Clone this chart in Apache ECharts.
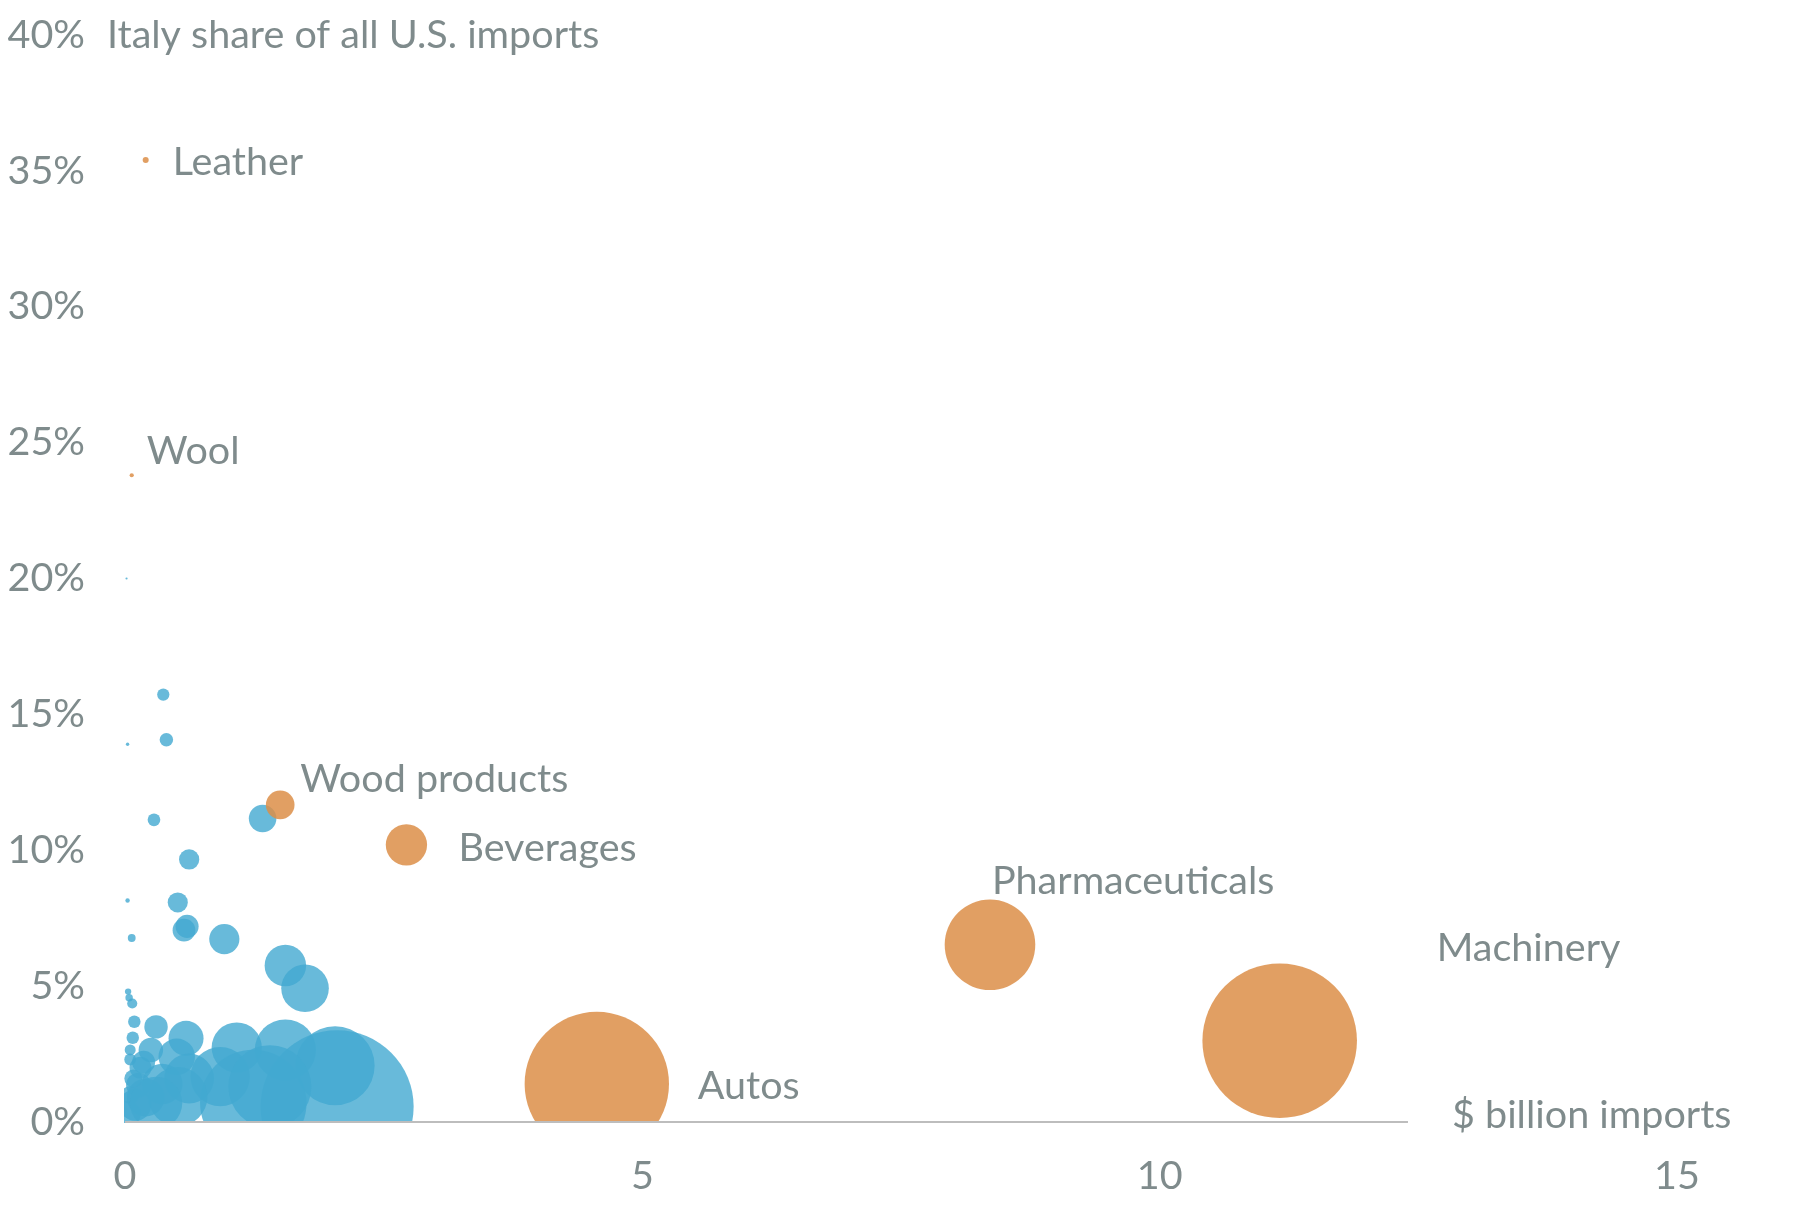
<!DOCTYPE html>
<html>
<head>
<meta charset="utf-8">
<style>
  html, body { margin: 0; padding: 0; background: #ffffff; }
  #chart { width: 1818px; height: 1208px; }
</style>
<script src="https://cdn.jsdelivr.net/npm/echarts@6/dist/echarts.min.js"></script>
</head>
<body>
<div id="chart"></div>
<script>
// ---- Data (x: $ billion imports from Italy, y: Italy share of all U.S. imports, %) ----
const blueImports = [0.015, 0.37, 0.40, 0.025, 1.33, 0.28, 0.62, 0.025, 0.51, 0.60, 0.57, 0.065, 0.96,
  1.55, 1.74, 0.03, 0.04, 0.07, 0.09, 0.30, 0.075, 0.59, 1.08, 1.55, 2.03, 2.05,
  0.05, 0.25, 0.05, 0.50, 0.13, 0.36, 0.10, 0.62, 0.92, 1.24, 1.40, 0.20, 0.05, 0.15, 0.03,
  0.51, 0.30, 0.08, 0.18];
const blueShare = [20.0, 15.73, 14.07, 13.9, 11.17, 11.12, 9.66, 8.15, 8.08, 7.2, 7.06, 6.77, 6.73,
  5.76, 4.92, 4.8, 4.57, 4.36, 3.69, 3.5, 3.1, 3.08, 2.74, 2.65, 2.07, 0.56,
  2.65, 2.65, 2.3, 2.4, 1.36, 1.4, 0.63, 1.6, 1.67, 0.7, 1.3, 0.9, 1.0, 2.0, 0.3,
  0.93, 0.7, 1.6, 2.2];

const orangeNames = ['Leather', 'Wool', 'Wood products', 'Beverages', 'Pharmaceuticals', 'Autos', 'Machinery'];
const orangeImports = [0.20, 0.065, 1.50, 2.72, 8.36, 4.56, 11.16];
const orangeShare = [35.4, 23.8, 11.67, 10.2, 6.52, 1.40, 2.99];

const yTitle = 'Italy share of all U.S. imports';
const xTitle = '$ billion imports';

// ---- Styles ----
const TEXT = '#7f8b8c';
const FONT = 'Lato, "Open Sans", sans-serif';
const FS = 39.5;
const labelOffsets = {
  'Leather': [27, 2],
  'Wool': [15, -24],
  'Wood products': [20, -26],
  'Beverages': [52, 3],
  'Pharmaceuticals': [2, -64],
  'Autos': [101, 2],
  'Machinery': [157, -92]
};
// bubble area proportional to total U.S. imports of the category (imports / share)
const sizeOf = v => 8 * Math.sqrt(v[0] / (v[1] / 100));

const blueData = blueImports.map((x, i) => [x, blueShare[i]]);
const orangeData = orangeNames.map((n, i) => ({
  name: n,
  value: [orangeImports[i], orangeShare[i]],
  label: { show: true, offset: labelOffsets[n] }
}));

const chart = echarts.init(document.getElementById('chart'), null, { renderer: 'canvas' });
chart.setOption({
  animation: false,
  backgroundColor: '#ffffff',
  grid: { left: 125, right: 141, top: 35, bottom: 86 },
  xAxis: {
    type: 'value', min: 0, max: 15, interval: 5, z: 200,
    axisLine: { show: false }, axisTick: { show: false }, splitLine: { show: false },
    axisLabel: { color: TEXT, fontSize: FS, fontFamily: FONT, margin: 34 }
  },
  yAxis: {
    type: 'value', min: 0, max: 40, interval: 5, z: 200,
    axisLine: { show: false }, axisTick: { show: false }, splitLine: { show: false },
    axisLabel: { color: TEXT, fontSize: FS, fontFamily: FONT, margin: 40, formatter: '{value}%' }
  },
  graphic: [
    { type: 'rect', z: 100, silent: true, shape: { x: 0, y: 1123, width: 1818, height: 85 }, style: { fill: '#ffffff' } },
    { type: 'rect', z: 100, silent: true, shape: { x: 0, y: 900, width: 124, height: 308 }, style: { fill: '#ffffff' } },
    { type: 'text', z: 300, x: 107, y: 35, style: { text: yTitle, fill: TEXT, font: FS + 'px ' + FONT, verticalAlign: 'middle', align: 'left' } },
    { type: 'text', z: 300, x: 1452, y: 1115, style: { text: xTitle, fill: TEXT, font: FS + 'px ' + FONT, verticalAlign: 'middle', align: 'left' } }
  ],
  series: [
    {
      type: 'scatter', z: 2,
      data: blueData,
      symbolSize: sizeOf,
      itemStyle: { color: 'rgba(66,169,209,0.8)', opacity: 1 },
      markLine: {
        silent: true, symbol: 'none', z: 150,
        lineStyle: { color: '#bdbdbd', width: 2, type: 'solid', opacity: 1 },
        label: { show: false },
        data: [[{ coord: [0, 0] }, { coord: [12.4, 0] }]]
      }
    },
    {
      type: 'scatter', z: 3,
      data: orangeData,
      symbolSize: sizeOf,
      itemStyle: { color: 'rgba(220,142,72,0.85)', opacity: 1 },
      label: {
        show: true, position: 'inside', align: 'left', verticalAlign: 'middle',
        formatter: '{b}', color: TEXT, fontSize: FS, fontFamily: FONT
      }
    }
  ]
});
</script>
</body>
</html>
